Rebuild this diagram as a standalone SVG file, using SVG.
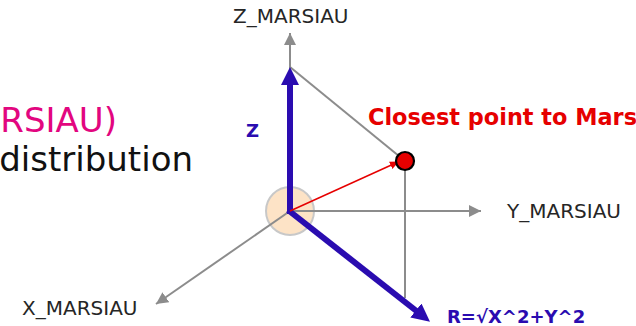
<svg xmlns="http://www.w3.org/2000/svg" width="636" height="326" viewBox="0 0 636 326">
<style>
.axis{stroke:#8c8c8c;stroke-width:2;fill:none}
.blue{stroke:#2a0cb0;stroke-width:6;fill:none}
.lbl{font-family:"DejaVu Sans",Verdana,sans-serif;font-size:20px;fill:#262626}
.bl{font-family:"DejaVu Sans",Verdana,sans-serif;font-weight:bold;fill:#2a0cb0}
</style>
<defs>
<marker id="gh" markerUnits="userSpaceOnUse" markerWidth="13" markerHeight="13" refX="12" refY="6" orient="auto"><path d="M0,0 L12,6 L0,12 z" fill="#8c8c8c"/></marker>
<marker id="bh" markerUnits="userSpaceOnUse" markerWidth="20" markerHeight="20" refX="4" refY="9" orient="auto"><path d="M0,0 L18,9 L0,18 z" fill="#2a0cb0"/></marker>
<marker id="rh" markerUnits="userSpaceOnUse" markerWidth="10" markerHeight="10" refX="8" refY="4" orient="auto"><path d="M0,0 L9,4 L0,8 z" fill="#e60000"/></marker>
</defs>
<g id="left-text">
<text x="117" y="132" text-anchor="end" font-family="DejaVu Sans,Verdana,sans-serif" font-size="34" fill="#e2067f">RSIAU)</text>
<text x="193" y="171" text-anchor="end" font-family="DejaVu Sans,Verdana,sans-serif" font-size="34" fill="#111">distribution</text>
</g>
<g id="origin"><circle cx="290" cy="211" r="24" fill="#fde3c6" stroke="#c8c8c8" stroke-width="2"/></g>
<g id="connectors">
<line class="axis" x1="290" y1="211" x2="290" y2="33" marker-end="url(#gh)"/>
<line class="axis" x1="290" y1="211" x2="481" y2="211" marker-end="url(#gh)"/>
<line class="axis" x1="290" y1="211" x2="156" y2="304" marker-end="url(#gh)"/>
<line class="axis" x1="290" y1="67" x2="405" y2="161"/>
<line class="axis" x1="405" y1="161" x2="405" y2="298"/>
<line class="blue" x1="290" y1="214" x2="290" y2="81" marker-end="url(#bh)"/>
<line class="blue" x1="288" y1="210" x2="419" y2="313" marker-end="url(#bh)"/>
<line x1="290" y1="211" x2="398" y2="162" stroke="#e60000" stroke-width="1.5" marker-end="url(#rh)"/>
</g>
<g id="point"><circle cx="405" cy="161" r="9" fill="#e60000" stroke="#000" stroke-width="2.2"/></g>
<g id="labels">
<text class="lbl" x="233" y="23">Z_MARSIAU</text>
<text class="lbl" x="507" y="218">Y_MARSIAU</text>
<text class="lbl" x="22" y="315">X_MARSIAU</text>
<text x="368" y="125" font-family="DejaVu Sans,Verdana,sans-serif" font-weight="bold" font-size="22.4" fill="#e60000">Closest point to Mars</text>
<text class="bl" x="246" y="137" font-size="18">Z</text>
<text class="bl" x="447" y="323" font-size="18">R=√X^2+Y^2</text>
</g>
</svg>
